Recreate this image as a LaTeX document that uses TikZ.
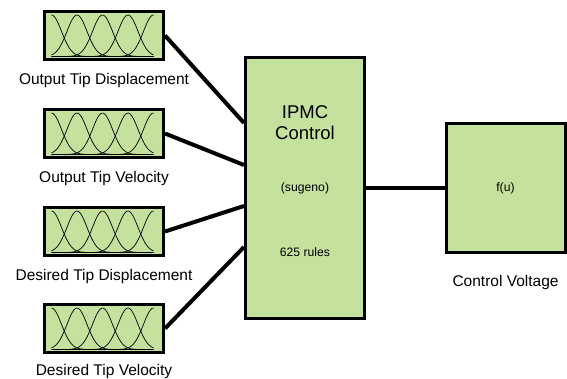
\documentclass[tikz,border=0pt]{standalone}
\usepackage{fontspec}
\setmainfont{Liberation Sans}
\usetikzlibrary{positioning,calc}
\definecolor{blockgreen}{RGB}{197,225,158}
\tikzset{
  mfbox/.style={draw,line width=3pt,fill=blockgreen,minimum width=119pt,minimum height=48pt,inner sep=0pt},
  bigbox/.style={draw,line width=3pt,fill=blockgreen,minimum width=119pt,inner sep=0pt},
  lbl/.style={font=\fontsize{15.5}{18}\selectfont,inner sep=0pt},
  title/.style={font=\fontsize{18.5}{21}\selectfont,inner sep=0pt,anchor=base},
  small/.style={font=\fontsize{12.2}{14}\selectfont,inner sep=0pt,anchor=base},
  wire/.style={line width=4pt},
  mfline/.style={line width=0.7pt},
  axisline/.style={line width=0.7pt,black!55},
}
% five gaussian membership functions inside an input block
\newcommand{\mfcurves}[1]{%
  \begin{scope}[shift={(#1.south west)}]
    \draw[axisline] (8.5,-4.5) -- (110.5,-4.5);
    \foreach \m in {8.5,34,59.5,85,110.5}
      \draw[mfline] plot[domain=8.5:110.5,samples=70,smooth] (\x,{-4.5-41.5*exp(-((\x-\m)^2)/200)});
  \end{scope}}

\begin{document}
\begin{tikzpicture}[x=1pt,y=-1pt]
  \useasboundingbox (0,0) rectangle (567,379);

  \node[mfbox] (in1) at (104,35.5) {};
  \node[mfbox] (in2) at (104,133.5) {};
  \node[mfbox] (in3) at (104,231.5) {};
  \node[mfbox] (in4) at (104,328.5) {};
  \mfcurves{in1} \mfcurves{in2} \mfcurves{in3} \mfcurves{in4}

  \node[lbl,below=12pt of in1] (l1) {Output Tip Displacement};
  \node[lbl,below=12pt of in2] (l2) {Output Tip Velocity};
  \node[lbl,below=12pt of in3] (l3) {Desired Tip Displacement};
  \node[lbl,below=10pt of in4] (l4) {Desired Tip Velocity};

  \node[bigbox,minimum height=261pt] (ctrl) at (305,188) {};
  \node[title] (ipmc) at (305,118.6) {IPMC};
  \node[title] (ctl) at (305,139.6) {Control};
  \node[small] (sug) at (305,191.2) {(sugeno)};
  \node[small] (rules) at (305,256.4) {625 rules};

  \node[bigbox,minimum height=129pt] (volt) at (505.5,188) {};
  \node[small] (fu) at (505.5,191.2) {f(u)};
  \node[lbl,below=21pt of volt] (lv) {Control Voltage};

  \coordinate (p1) at (ctrl.west |- 0,123);
  \coordinate (p2) at (ctrl.west |- 0,165);
  \coordinate (p3) at (ctrl.west |- 0,206);
  \coordinate (p4) at (ctrl.west |- 0,247);
  \draw[wire] (in1.east) -- (p1);
  \draw[wire] (in2.east) -- (p2);
  \draw[wire] (in3.east) -- (p3);
  \draw[wire] (in4.east) -- (p4);
  \draw[wire] (ctrl.east) -- (volt.west);
\end{tikzpicture}
\end{document}
